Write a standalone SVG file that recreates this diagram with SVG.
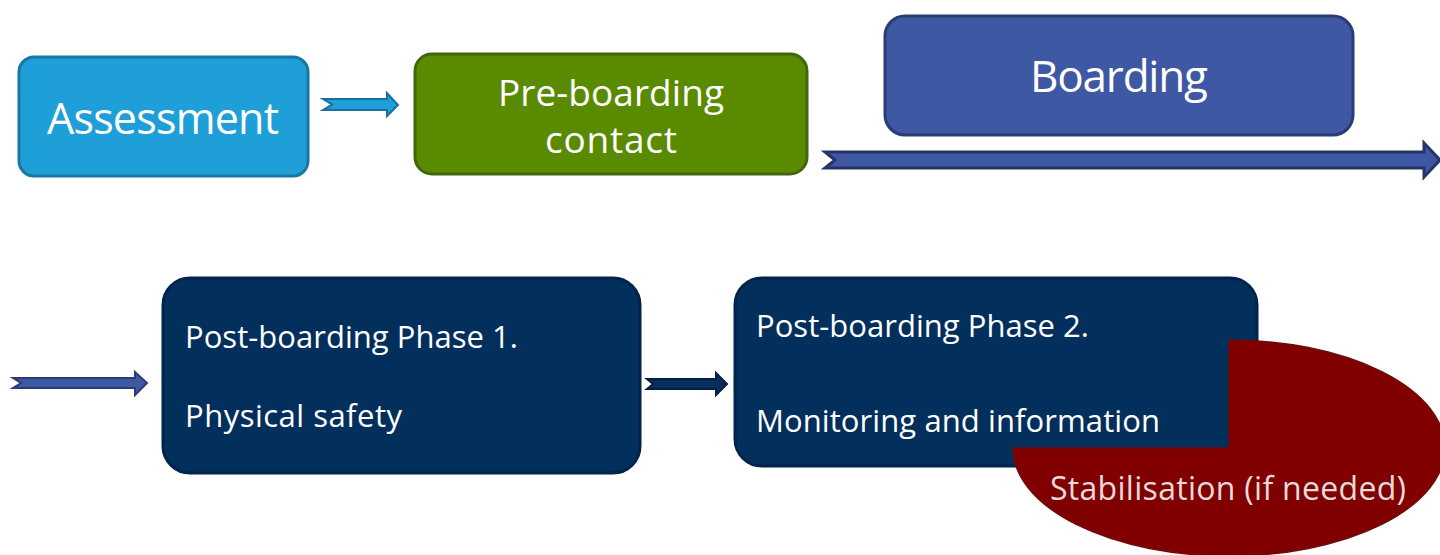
<svg xmlns="http://www.w3.org/2000/svg" width="1440" height="555" viewBox="0 0 1440 555">
  <style>
    .t { font-family: "Open Sans", "Liberation Sans", sans-serif; fill: #ffffff; }
    .c { text-anchor: middle; }
    .box { stroke-width: 3; }
  </style>
  <rect x="0" y="0" width="1440" height="555" fill="#ffffff"/>
  <g id="connectors">
    <path d="M323,99 L387,99 L387,93 L398,105 L387,116 L387,110 L323,110 L332,104.5 Z" fill="#1e9fd8" stroke="#1a6f9c" stroke-width="2" stroke-linejoin="miter"/>
    <path d="M825,152 L1424,152 L1424,143 L1440,160 L1424,177 L1424,168 L825,168 L835,160 Z" fill="#3f58a3" stroke="#263566" stroke-width="3"/>
    <path d="M13,378 L135,378 L135,372 L147,383 L135,395 L135,388 L13,388 L21,383 Z" fill="#3f58a3" stroke="#2b3c74" stroke-width="2"/>
    <path d="M647,379 L716,379 L716,373 L727,384 L716,395 L716,389 L647,389 L653,384 Z" fill="#0a2d5c" stroke="#021f44" stroke-width="2"/>
  </g>
  <g id="assessment">
    <rect class="box" x="19" y="57" width="289" height="119" rx="15" fill="#1e9fd8" stroke="#1a76a6"/>
    <text class="t c" x="163" y="134" font-size="43" textLength="232">Assessment</text>
  </g>
  <g id="pre-boarding">
    <rect class="box" x="415" y="54" width="392" height="120" rx="17" fill="#5a8a00" stroke="#42670a"/>
    <text class="t c" x="611" y="106" font-size="37" textLength="226">Pre-boarding</text>
    <text class="t c" x="611" y="153" font-size="37" textLength="132">contact</text>
  </g>
  <g id="boarding">
    <rect class="box" x="885" y="16" width="468" height="119" rx="20" fill="#3f58a3" stroke="#2b3c74"/>
    <text class="t c" x="1119" y="92" font-size="44" textLength="178">Boarding</text>
  </g>
  <g id="phase1">
    <rect class="box" x="163" y="278" width="477" height="195" rx="27" fill="#032f5c" stroke="#02234a"/>
    <text class="t" x="185" y="348" font-size="31" textLength="333">Post-boarding Phase 1.</text>
    <text class="t" x="185" y="427" font-size="31" textLength="217">Physical safety</text>
  </g>
  <g id="phase2">
    <rect class="box" x="735" y="278" width="522" height="188" rx="27" fill="#032f5c" stroke="#02234a"/>
    <text class="t" x="756" y="337" font-size="31" textLength="333">Post-boarding Phase 2.</text>
    <text class="t" x="756" y="432" font-size="31" textLength="404">Monitoring and information</text>
  </g>
  <g id="stabilisation">
    <path d="M1229,448 L1229,340 A216,108 0 1 1 1013,448 Z" fill="#800000" stroke="#6e0a0a" stroke-width="1.5"/>
    <text class="c" x="1228" y="500" font-size="32" textLength="356" font-family="Open Sans, Liberation Sans, sans-serif" fill="#e8dada">Stabilisation (if needed)</text>
  </g>
</svg>
